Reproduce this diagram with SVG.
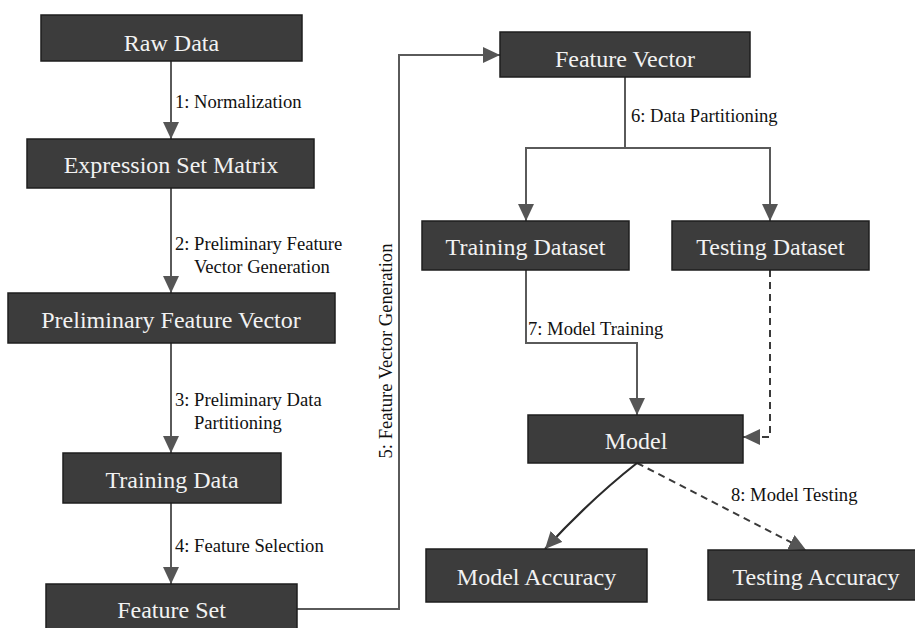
<svg xmlns="http://www.w3.org/2000/svg" width="915" height="628" viewBox="0 0 915 628">
<style>
.box{fill:#3c3c3c;stroke:#1e1e1e;stroke-width:1.5}
.nt{font-family:'Liberation Serif','Tinos','DejaVu Serif',serif;font-size:24px;fill:#f2f2f2;text-anchor:middle}
.lb{font-family:'Liberation Serif','Tinos','DejaVu Serif',serif;font-size:18.6px;fill:#111}
.ln{fill:none;stroke:#5a5a5a;stroke-width:2}
.dk{fill:none;stroke:#2a2a2a;stroke-width:2.2}
.ds{fill:none;stroke:#3a3a3a;stroke-width:2;stroke-dasharray:7,5}
</style>
<defs>
<marker id="ah" viewBox="0 0 17 16" refX="17" refY="8" markerWidth="17" markerHeight="16" markerUnits="userSpaceOnUse" orient="auto">
<path d="M0,0 L17,8 L0,16 Z" fill="#555"/>
</marker>
</defs>
<rect width="915" height="628" fill="#fff"/>
<g id="connectors">
<path class="ln" d="M171,61 V139" marker-end="url(#ah)"/>
<path class="ln" d="M171,188 V293" marker-end="url(#ah)"/>
<path class="ln" d="M171,343 V453" marker-end="url(#ah)"/>
<path class="ln" d="M171,503 V584" marker-end="url(#ah)"/>
<path class="ln" d="M297,609 H399 V55 H500" marker-end="url(#ah)"/>
<path class="ln" d="M625,77 V148"/>
<path class="ln" d="M625,148 H526 V221" marker-end="url(#ah)"/>
<path class="ln" d="M625,148 H770 V221" marker-end="url(#ah)"/>
<path class="ln" d="M526,270 V343 H637 V415" marker-end="url(#ah)"/>
<path class="ds" d="M770,270 V437 H743" marker-end="url(#ah)"/>
<path class="dk" d="M637,463 Q590,500 545,549" marker-end="url(#ah)"/>
<path class="ds" d="M637,463 L806,550" marker-end="url(#ah)"/>
<text class="lb" x="175" y="108">1: Normalization</text>
<text class="lb" x="175" y="250">2: Preliminary Feature</text>
<text class="lb" x="194" y="273">Vector Generation</text>
<text class="lb" x="175" y="406">3: Preliminary Data</text>
<text class="lb" x="194" y="429">Partitioning</text>
<text class="lb" x="175" y="552">4: Feature Selection</text>
<text class="lb" x="392" y="351" text-anchor="middle" transform="rotate(-90 392 351)">5: Feature Vector Generation</text>
<text class="lb" x="631" y="122">6: Data Partitioning</text>
<text class="lb" x="528" y="335">7: Model Training</text>
<text class="lb" x="731" y="501">8: Model Testing</text>
</g>
<g id="raw-data"><rect class="box" x="41" y="15" width="261" height="46"/><text class="nt" x="171.5" y="51">Raw Data</text></g>
<g id="expression-set-matrix"><rect class="box" x="27" y="139" width="287" height="49"/><text class="nt" x="171" y="173">Expression Set Matrix</text></g>
<g id="preliminary-feature-vector"><rect class="box" x="8" y="293" width="327" height="50"/><text class="nt" x="171" y="328">Preliminary Feature Vector</text></g>
<g id="training-data"><rect class="box" x="63" y="453" width="218" height="50"/><text class="nt" x="172" y="488">Training Data</text></g>
<g id="feature-set"><rect class="box" x="46" y="584" width="251" height="60"/><text class="nt" x="171.5" y="618">Feature Set</text></g>
<g id="feature-vector"><rect class="box" x="500" y="32" width="250" height="45"/><text class="nt" x="625" y="67">Feature Vector</text></g>
<g id="training-dataset"><rect class="box" x="422" y="221" width="207" height="49"/><text class="nt" x="525.5" y="255">Training Dataset</text></g>
<g id="testing-dataset"><rect class="box" x="672" y="221" width="197" height="49"/><text class="nt" x="770.5" y="255">Testing Dataset</text></g>
<g id="model"><rect class="box" x="528" y="415" width="215" height="48"/><text class="nt" x="636" y="449">Model</text></g>
<g id="model-accuracy"><rect class="box" x="426" y="549" width="221" height="53"/><text class="nt" x="536.5" y="585">Model Accuracy</text></g>
<g id="testing-accuracy"><rect class="box" x="708" y="550" width="220" height="50"/><text class="nt" x="816" y="585">Testing Accuracy</text></g>
</svg>
